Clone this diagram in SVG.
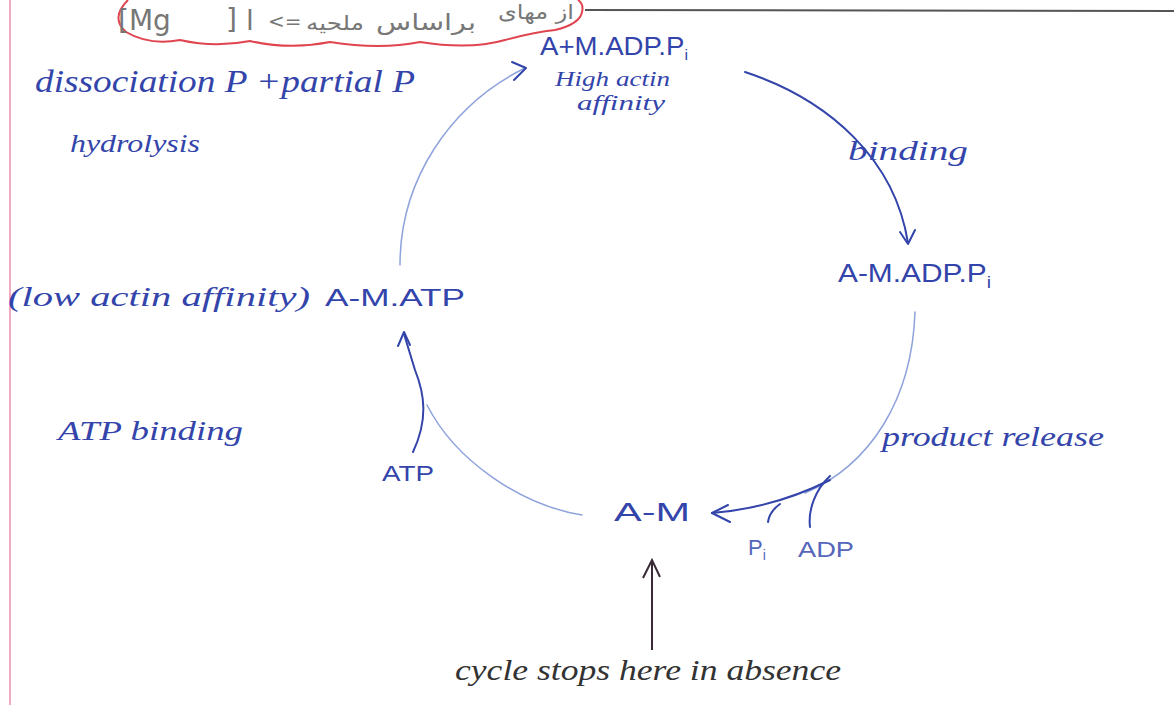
<svg xmlns="http://www.w3.org/2000/svg" width="1174" height="705" viewBox="0 0 1174 705">
<style>
.lbl{font-family:"Liberation Sans",sans-serif;fill:#3344aa}
.cur{font-family:"Liberation Serif",serif;font-style:italic;fill:#3344aa}
.fa{font-family:"DejaVu Sans",sans-serif;fill:#777777}
.dark{fill:none;stroke:#3344aa;stroke-width:2;stroke-linecap:round;stroke-linejoin:round}
.light{fill:none;stroke:#8ea2dc;stroke-width:1.5;stroke-linecap:round}
</style>
<rect width="1174" height="705" fill="#ffffff"/>
<line x1="10" y1="0" x2="10" y2="705" stroke="#f2a9c4" stroke-width="2"/>
<line x1="585" y1="10" x2="1174" y2="11" stroke="#555" stroke-width="2"/>
<g id="cloud">
<path d="M128 0 Q110 18 126 32 Q150 46 180 40 Q215 48 250 41 Q290 50 330 42 Q380 50 420 42 Q470 50 505 40 Q535 32 555 30 Q580 24 582 12 Q584 4 578 0" fill="none" stroke="#e0454f" stroke-width="2"/>
<text class="fa" x="118" y="30" style="font-size:28px">[Mg</text>
<text class="fa" x="226" y="29" style="font-size:28px">]</text>
<text class="fa" x="246" y="30" style="font-size:28px" direction="rtl" text-anchor="end">ا</text>
<text class="fa" x="268" y="28" style="font-size:20px" direction="ltr" unicode-bidi="embed">&lt;=</text>
<text class="fa" x="306" y="30" style="font-size:20px" direction="rtl" text-anchor="end" textLength="58" lengthAdjust="spacingAndGlyphs">ملحیه</text>
<text class="fa" x="376" y="30" style="font-size:22px" direction="rtl" text-anchor="end" textLength="100" lengthAdjust="spacingAndGlyphs">براساس</text>
<text class="fa" x="498" y="19" style="font-size:20px" direction="rtl" text-anchor="end" textLength="76" lengthAdjust="spacingAndGlyphs">از مهای</text>
</g>
<g id="connectors">
<path class="dark" d="M745 72 C830 100 895 160 908 243"/>
<path class="dark" d="M900 232 L908 244 L915 230"/>
<path class="light" d="M915 312 C912 400 870 465 805 493"/>
<path class="dark" d="M830 480 C790 500 750 510 712 513"/>
<path class="dark" d="M728 505 L712 513 L730 522"/>
<path class="dark" d="M830 476 C815 490 808 510 810 527"/>
<path class="dark" d="M780 504 C773 509 769 515 768 522"/>
<path class="light" d="M427 405 C455 460 520 505 582 515"/>
<path class="dark" d="M413 452 C428 420 425 395 415 370 L404 334"/>
<path class="dark" d="M398 346 L404 332 L410 345"/>
<path class="light" d="M400 265 C400 180 450 105 525 68"/>
<path class="dark" d="M512 62 L526 68 L514 80" stroke-width="1.6"/>
<path d="M652 650 L652 562 M643 578 L652 560 L660 577" fill="none" stroke="#3a2a35" stroke-width="2"/>
</g>
<g id="node-top">
<text class="lbl" x="540" y="55" style="font-size:26px" textLength="148" lengthAdjust="spacingAndGlyphs">A+M.ADP.P<tspan style="font-size:15px" dy="5">i</tspan></text>
<text class="cur" x="555" y="86" style="font-size:22px" textLength="115" lengthAdjust="spacingAndGlyphs">High actin</text>
<text class="cur" x="577" y="110" style="font-size:22px" textLength="88" lengthAdjust="spacingAndGlyphs">affinity</text>
</g>
<g id="node-right">
<text class="lbl" x="838" y="282" style="font-size:25px" textLength="153" lengthAdjust="spacingAndGlyphs">A-M.ADP.P<tspan style="font-size:16px" dy="6">i</tspan></text>
</g>
<g id="node-bottom">
<text class="lbl" x="614" y="521" style="font-size:25px" textLength="76" lengthAdjust="spacingAndGlyphs">A-M</text>
</g>
<g id="node-left">
<text class="cur" x="8" y="306" style="font-size:28px" textLength="302" lengthAdjust="spacingAndGlyphs">(low actin affinity)</text>
<text class="lbl" x="325" y="306" style="font-size:24px" textLength="140" lengthAdjust="spacingAndGlyphs">A-M.ATP</text>
</g>
<g id="labels">
<text class="cur" x="35" y="92" style="font-size:32px" textLength="380" lengthAdjust="spacingAndGlyphs">dissociation P +partial P</text>
<text class="cur" x="70" y="152" style="font-size:26px" textLength="130" lengthAdjust="spacingAndGlyphs">hydrolysis</text>
<text class="cur" x="848" y="160" style="font-size:28px" textLength="120" lengthAdjust="spacingAndGlyphs">binding</text>
<text class="cur" x="882" y="446" style="font-size:28px" textLength="222" lengthAdjust="spacingAndGlyphs">product release</text>
<text class="cur" x="58" y="440" style="font-size:28px" textLength="185" lengthAdjust="spacingAndGlyphs">ATP binding</text>
<text class="lbl" x="382" y="481" style="font-size:22px" textLength="52" lengthAdjust="spacingAndGlyphs">ATP</text>
<text class="lbl" x="748" y="555" style="font-size:22px;fill:#5566bb">P<tspan style="font-size:14px" dy="5">i</tspan></text>
<text class="lbl" x="798" y="557" style="font-size:22px;fill:#5566bb" textLength="56" lengthAdjust="spacingAndGlyphs">ADP</text>
<text class="cur" x="455" y="680" style="font-size:30px;fill:#333333" textLength="386" lengthAdjust="spacingAndGlyphs">cycle stops here in absence</text>
</g>
</svg>
